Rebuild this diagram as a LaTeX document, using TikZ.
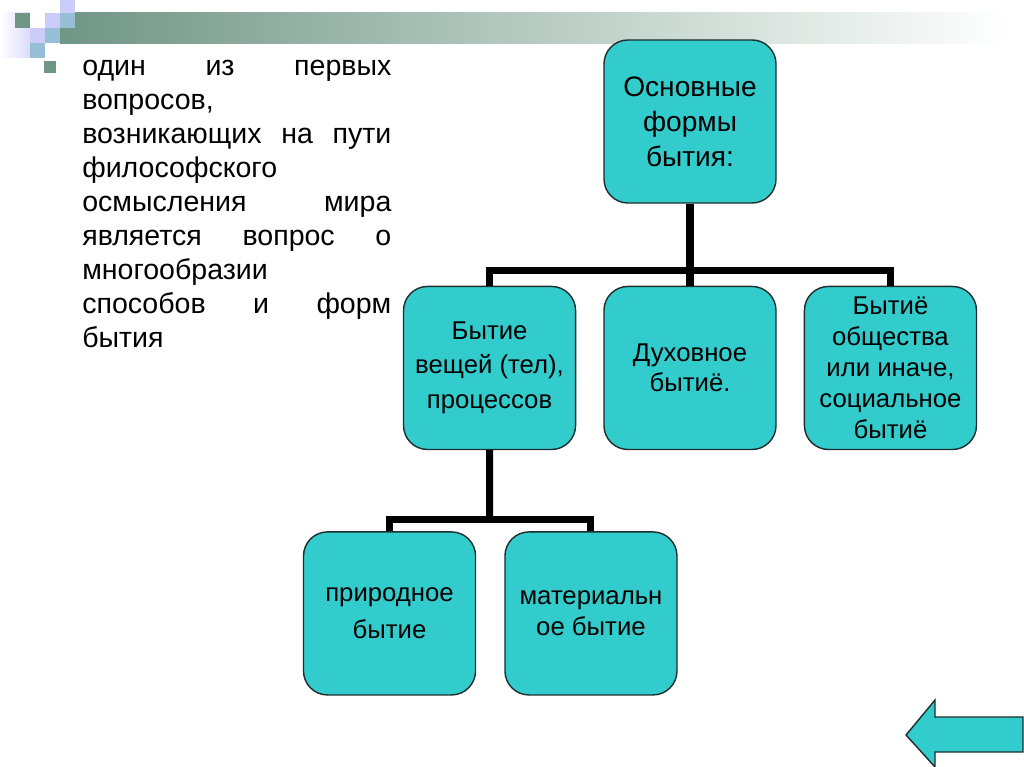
\documentclass[tikz,border=0pt]{standalone}
\usepackage{fontspec}
\setmainfont{Liberation Sans}
\usetikzlibrary{positioning,calc}
\definecolor{turq}{RGB}{51,204,204}
\definecolor{edge}{RGB}{30,45,45}
\definecolor{sage}{RGB}{112,150,133}
\definecolor{mist}{RGB}{200,208,205}
\definecolor{lav}{RGB}{204,204,250}
\definecolor{sky}{RGB}{150,190,215}
\tikzset{
  form/.style={draw=edge,line width=1pt,rounded corners=0.6cm,fill=turq,inner sep=2pt,
    minimum width=4.3cm,minimum height=4.075cm,align=center,
    font=\fontsize{18.3}{22}\selectfont},
  tree/.style={line width=5pt,black},
  intro/.style={anchor=north west,inner sep=0pt,text width=7.725cm,align=justify,
    font=\fontsize{20.3}{24.2}\selectfont},
  navarrow/.style={fill=turq,draw=edge,line width=1pt},
}

\begin{document}
\begin{tikzpicture}[x=0.025cm,y=-0.025cm]
  \useasboundingbox (0,0) rectangle (1024,767);
  \shade[left color=sage,middle color=mist,right color=white] (60,13) rectangle (1008,44);
  \shade[left color=white,right color=lav!70] (0,13) rectangle (30,58);
  \foreach \c/\i/\j in {sage/1/1,lav/3/1,lav/4/0,sky/4/1,lav/2/2,sky/3/2,sky/2/3}
    \fill[\c] (\i*15,\j*15-2) rectangle ++(15,15);
  \fill[sage] (44,61) rectangle (56,73);

  \node[intro] (text) at (82,60)
    {один из первых\linebreak вопросов,\linebreak возникающих на пути\linebreak
     философского\linebreak осмысления мира\linebreak является вопрос о\linebreak
     многообразии\linebreak способов и форм\linebreak бытия};

  \node[form,font=\fontsize{20}{24.8}\selectfont] (top) at (690,121.5)
    {Основные\\формы\\бытия:};
  \node[form,below=2.05cm of top] (dukh) {Духовное\\[-1pt]бытиё.};
  \node[form,left=0.675cm of dukh] (veshch) {Бытие\\[2pt]вещей (тел),\\[3pt]процессов};
  \node[form,right=0.675cm of dukh] (soc)
    {Бытиё\\общества\\или иначе,\\социальное\\бытиё};
  \node[form,below=2.025cm of veshch,xshift=-2.5cm] (prirod) {природное\\[4pt]бытие};
  \node[form,right=0.7cm of prirod] (mater) {материальн\\ое бытие};

  \coordinate (fork) at ($(top.south)!0.82!(dukh.north)$);
  \draw[tree] (top.south) -- (dukh.north);
  \draw[tree] (veshch.north) |- (fork) -| (soc.north);
  \coordinate (fork2) at ($(veshch.south)!0.86!(veshch.south |- prirod.north)$);
  \draw[tree] (veshch.south) -- (fork2);
  \draw[tree] (prirod.north) |- (fork2) -| (mater.north);

  \draw[navarrow] (906,735) -- (935,700) -- (935,717) -- (1023,717) -- (1023,752)
    -- (935,752) -- (935,767) -- cycle;
\end{tikzpicture}
\end{document}
